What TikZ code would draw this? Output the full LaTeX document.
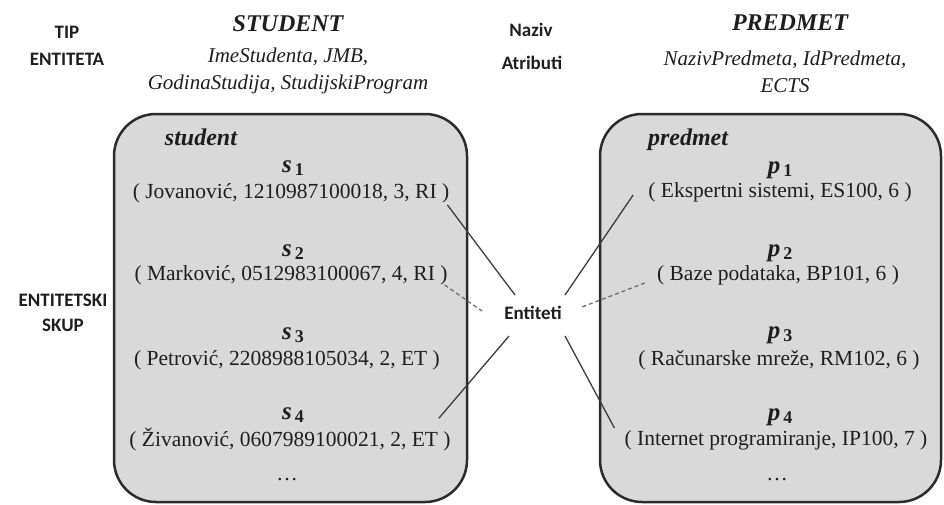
\documentclass[tikz,border=0pt]{standalone}
\usepackage{fontspec}
\setmainfont{Liberation Serif}
\newfontfamily\labfont{Carlito}
\usetikzlibrary{calc}
\definecolor{setfill}{HTML}{D9D9D9}
\definecolor{setline}{HTML}{2B2B2B}
\definecolor{linkc}{HTML}{3C3C3C}
\definecolor{dashc}{HTML}{6E6E6E}
\definecolor{txt}{HTML}{1E1E1E}
% element name: bold italic letter with a bold index
\newcommand{\elemname}[2]{\textbf{\textit{#1}}\kern3pt\raisebox{-0.3ex}{\fontsize{18}{18}\selectfont\textbf{#2}}}
\begin{document}
\begin{tikzpicture}[x=1pt,y=-1pt,
  sidetag/.style={font=\labfont\bfseries\fontsize{19}{19}\selectfont, text=txt, inner sep=0pt},
  typename/.style={font=\bfseries\itshape\fontsize{24}{24}\selectfont, text=txt, inner sep=0pt},
  attrtext/.style={font=\itshape\fontsize{21}{21}\selectfont, text=txt, inner sep=0pt},
  setbox/.style={draw=setline, fill=setfill, line width=2.5pt, rounded corners=42pt, inner sep=0pt},
  setname/.style={font=\bfseries\itshape\fontsize{24}{24}\selectfont, text=txt, inner sep=0pt},
  elemlabel/.style={font=\fontsize{25}{25}\selectfont, text=txt, inner sep=0pt},
  tuple/.style={font=\fontsize{21.5}{21.5}\selectfont, text=txt, inner sep=0pt},
  connector/.style={draw=linkc, line width=1.3pt},
  weakconnector/.style={draw=dashc, line width=1.3pt, dash pattern=on 4pt off 3pt},
]
\useasboundingbox (0,0) rectangle (944,504);

% entity sets
\node[setbox, minimum width=353pt, minimum height=388pt] (lset) at (290.5,308) {};
\node[setbox, minimum width=341pt, minimum height=388pt] (rset) at (770.5,308) {};

% row captions on the left
\node[sidetag] (tip) at (67,32) {TIP};
\node[sidetag] (tipb) at (67,59) {ENTITETA};
\node[sidetag] (skup) at (63,300) {ENTITETSKI};
\node[sidetag] (skupb) at (63,325) {SKUP};

% middle captions
\node[sidetag] (naziv) at (531,30) {Naziv};
\node[sidetag] (atr) at (532,63) {Atributi};
\node[sidetag] (ent) at (533,313) {Entiteti};

% entity type STUDENT
\node[typename] (tstud) at (288,24) {STUDENT};
\node[attrtext] (astud1) at (288,57) {ImeStudenta, JMB,};
\node[attrtext] (astud2) at (288,84) {GodinaStudija, StudijskiProgram};

% entity type PREDMET
\node[typename] (tpred) at (790,23) {PREDMET};
\node[attrtext] (apred1) at (785,60) {NazivPredmeta, IdPredmeta,};
\node[attrtext] (apred2) at (785,86) {ECTS};

% students
\node[setname] (nstud) at (201,137) {student};
\node[elemlabel] (s1) at (293,168) {\elemname{s}{1}};
\node[tuple] (t1) at (291,193) {( Jovanović, 1210987100018, 3, RI )};
\node[elemlabel] (s2) at (293,252) {\elemname{s}{2}};
\node[tuple] (t2) at (291,275) {( Marković, 0512983100067, 4, RI )};
\node[elemlabel] (s3) at (293,335) {\elemname{s}{3}};
\node[tuple] (t3) at (287,360) {( Petrović, 2208988105034, 2, ET )};
\node[elemlabel] (s4) at (293,415) {\elemname{s}{4}};
\node[tuple] (t4) at (290,440) {( Živanović, 0607989100021, 2, ET )};
\node[tuple] (tdots) at (287,480) {\dots};

% courses
\node[setname] (npred) at (688,140) {predmet};
\node[elemlabel] (p1) at (780,170) {\elemname{p}{1}};
\node[tuple] (q1) at (780,192) {( Ekspertni sistemi, ES100, 6 )};
\node[elemlabel] (p2) at (780,253) {\elemname{p}{2}};
\node[tuple] (q2) at (778,275) {( Baze podataka, BP101, 6 )};
\node[elemlabel] (p3) at (780,335) {\elemname{p}{3}};
\node[tuple] (q3) at (779,360) {( Računarske mreže, RM102, 6 )};
\node[elemlabel] (p4) at (780,417) {\elemname{p}{4}};
\node[tuple] (q4) at (776,440) {( Internet programiranje, IP100, 7 )};
\node[tuple] (qdots) at (777,480) {\dots};

% links from the elements to the caption
\draw[connector] ([shift={(-2,2)}]t1.south east) -- ([shift={(-18,-18)}]ent.center);
\draw[weakconnector] ([shift={(-3,0)}]t2.south east) -- ([shift={(-51,-2)}]ent.center);
\draw[connector] ([shift={(-12,-10)}]t4.north east) -- ([shift={(-24,23)}]ent.center);
\draw[connector] ([shift={(-15,3)}]q1.west) -- ([shift={(32,-18)}]ent.center);
\draw[weakconnector] ([shift={(-12,-2)}]q2.south west) -- ([shift={(49,-6)}]ent.center);
\draw[connector] ([shift={(-10,-2)}]q4.north west) -- ([shift={(32,23)}]ent.center);
\end{tikzpicture}
\end{document}
